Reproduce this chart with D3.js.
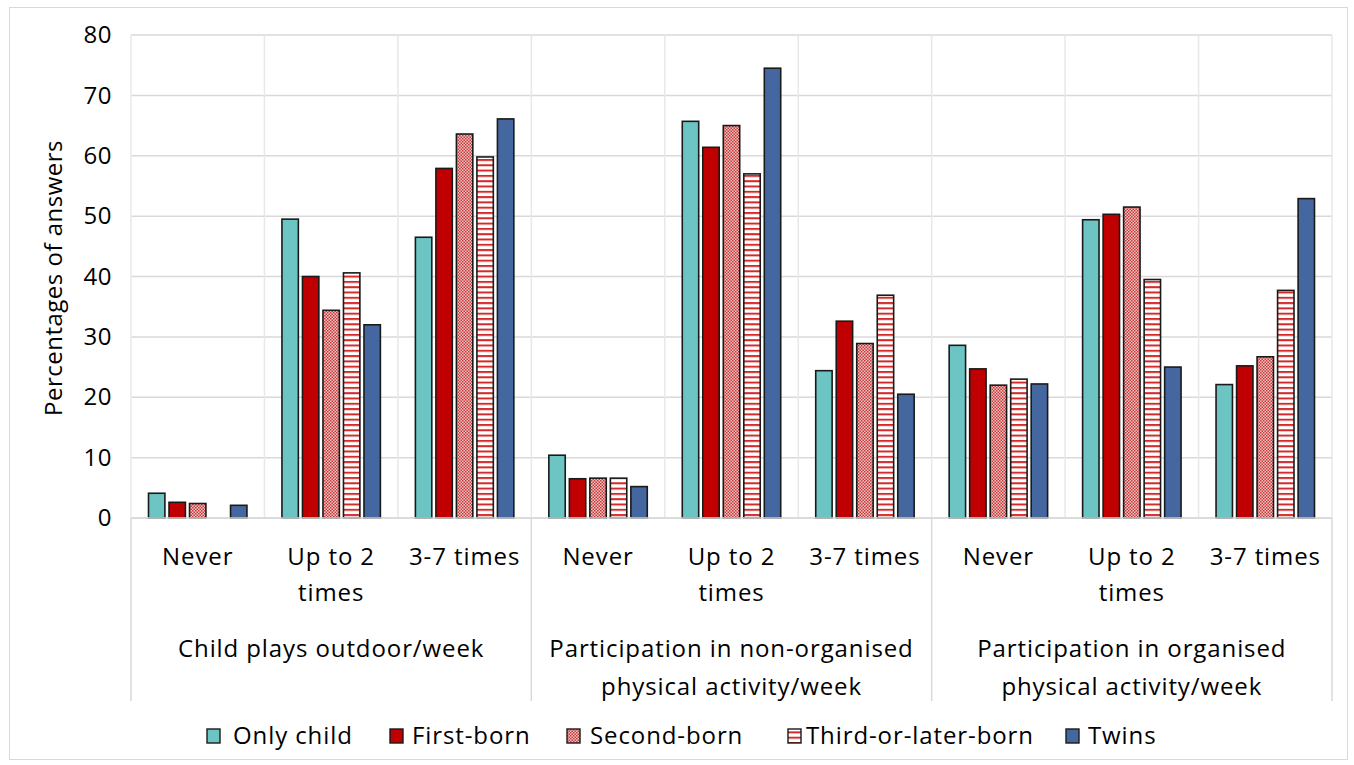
<!DOCTYPE html>
<html>
<head>
<meta charset="utf-8">
<script src="https://cdn.jsdelivr.net/npm/d3@7"></script>
<style>
  html, body { margin: 0; padding: 0; background: #fff; }
  svg { display: block; font-family: "Open Sans", Lato, sans-serif; }
</style>
</head>
<body>
<svg id="chart" width="1354" height="765"></svg>
<script>
// ---------- DATA ----------
const groupLabels = [
  ["Child plays outdoor/week"],
  ["Participation in non-organised", "physical activity/week"],
  ["Participation in organised", "physical activity/week"]
];
const categoryLabels = [["Never"], ["Up to 2", "times"], ["3-7 times"]];
const seriesNames = ["Only child", "First-born", "Second-born", "Third-or-later-born", "Twins"];
const onlyChild   = [4.1, 49.5, 46.5, 10.4, 65.7, 24.4, 28.6, 49.4, 22.1];
const firstBorn   = [2.6, 40.0, 57.9, 6.5, 61.4, 32.6, 24.7, 50.3, 25.2];
const secondBorn  = [2.4, 34.4, 63.6, 6.6, 65.0, 28.9, 22.0, 51.5, 26.7];
const thirdBorn   = [null, 40.6, 59.8, 6.6, 57.0, 36.9, 23.0, 39.5, 37.7];
const twins       = [2.1, 32.0, 66.1, 5.2, 74.5, 20.5, 22.2, 25.0, 52.9];
const yTicks = [0, 10, 20, 30, 40, 50, 60, 70, 80];
const yTitle = "Percentages of answers";

// ---------- LAYOUT ----------
const seriesValues = [onlyChild, firstBorn, secondBorn, thirdBorn, twins];
const svg = d3.select("#chart");
const pLeft = 131, pRight = 1332, pTop = 35, pBottom = 518;
const fontSize = 24;
const spacing = "0.9px";
const grid = "#d9d9d9";

const slots = d3.range(9);
const x0 = d3.scaleBand().domain(slots).range([pLeft, pRight]).paddingInner(0).paddingOuter(0);
const x1 = d3.scaleBand().domain(d3.range(5)).range([17.5, x0.bandwidth() - 17.5]).paddingInner(0.2).paddingOuter(0);
const y = d3.scaleLinear().domain([0, 80]).range([pBottom, pTop]);
const xg = d3.scaleBand().domain([0, 1, 2]).range([pLeft, pRight]);

// outer border
svg.append("rect").attr("x", 9.5).attr("y", 7.5).attr("width", 1338).attr("height", 752)
  .attr("fill", "#fff").attr("stroke", "#d9d9d9").attr("stroke-width", 1);

// patterns
const defs = svg.append("defs");
const pDot = defs.append("pattern").attr("id", "dots").attr("patternUnits", "userSpaceOnUse")
  .attr("width", 3).attr("height", 3);
pDot.append("rect").attr("width", 3).attr("height", 3).attr("fill", "#f0c4c4");
pDot.append("rect").attr("x", 0).attr("y", 0).attr("width", 1.5).attr("height", 1.5).attr("fill", "#c83838");
pDot.append("rect").attr("x", 1.5).attr("y", 1.5).attr("width", 1.5).attr("height", 1.5).attr("fill", "#c83838");
const pStripe = defs.append("pattern").attr("id", "stripes").attr("patternUnits", "userSpaceOnUse")
  .attr("width", 6).attr("height", 5.3);
pStripe.append("rect").attr("width", 6).attr("height", 5.3).attr("fill", "#fff");
pStripe.append("rect").attr("y", 0).attr("width", 6).attr("height", 2).attr("fill", "#d42a2a");

const fills = ["#6cc5c3", "#c00000", "url(#dots)", "url(#stripes)", "#45679f"];
const legendFills = fills;

// horizontal gridlines
svg.append("g").selectAll("line").data(yTicks).join("line")
  .attr("x1", pLeft).attr("x2", pRight)
  .attr("y1", d => y(d)).attr("y2", d => y(d))
  .attr("stroke", grid).attr("stroke-width", 1.5);

// vertical gridlines at category boundaries
const bounds = slots.map(i => x0(i)).concat([pRight]);
svg.append("g").selectAll("line").data(bounds).join("line")
  .attr("x1", d => d).attr("x2", d => d)
  .attr("y1", pTop).attr("y2", pBottom)
  .attr("stroke", "#e8e8e8").attr("stroke-width", 1.5);

// group separators below the axis
const gBounds = [0, 1, 2].map(i => xg(i)).concat([pRight]);
svg.append("g").selectAll("line").data(gBounds).join("line")
  .attr("x1", d => d).attr("x2", d => d)
  .attr("y1", pBottom).attr("y2", 701)
  .attr("stroke", grid).attr("stroke-width", 1.5);

// bars
const barData = [];
seriesValues.forEach((vals, s) => vals.forEach((v, i) => { if (v != null) barData.push({s, i, v}); }));
svg.append("g").selectAll("rect").data(barData).join("rect")
  .attr("x", d => x0(d.i) + x1(d.s))
  .attr("y", d => y(d.v))
  .attr("width", x1.bandwidth())
  .attr("height", d => y(0) - y(d.v))
  .attr("fill", d => fills[d.s])
  .attr("stroke", "#1a1a1a").attr("stroke-width", 1.6);

// axis line
svg.append("line").attr("x1", pLeft).attr("x2", pRight).attr("y1", pBottom).attr("y2", pBottom)
  .attr("stroke", grid).attr("stroke-width", 1.5);

// y axis tick labels
const yAxis = d3.axisLeft(y).tickValues(yTicks).tickSize(0).tickPadding(19);
const ya = svg.append("g").attr("transform", `translate(${pLeft},0)`).call(yAxis);
ya.select(".domain").remove();
ya.selectAll("text").attr("font-size", fontSize).attr("fill", "#000")
  .attr("font-family", "'Open Sans', sans-serif").style("letter-spacing", "0.5px");

// y title
svg.append("text").attr("transform", `translate(62,278) rotate(-90)`)
  .attr("text-anchor", "middle").attr("font-size", fontSize).attr("fill", "#000")
  .style("letter-spacing", "0.5px")
  .text(yTitle);

// category labels
slots.forEach(i => {
  const lines = categoryLabels[i % 3];
  const t = svg.append("text").attr("text-anchor", "middle").attr("font-size", fontSize).attr("fill", "#000")
    .style("letter-spacing", spacing);
  lines.forEach((ln, k) => t.append("tspan").attr("x", x0(i) + x0.bandwidth() / 2).attr("y", 565 + k * 36).text(ln));
});

// group labels
[0, 1, 2].forEach(g => {
  const t = svg.append("text").attr("text-anchor", "middle").attr("font-size", fontSize).attr("fill", "#000")
    .style("letter-spacing", spacing);
  groupLabels[g].forEach((ln, k) => t.append("tspan").attr("x", xg(g) + xg.bandwidth() / 2).attr("y", 657 + k * 38).text(ln));
});

// legend
const legendX = [207, 390, 567, 788, 1066];
const legendTextX = [233, 412, 590, 806, 1088];
const lg = svg.append("g");
seriesNames.forEach((name, s) => {
  lg.append("rect").attr("x", legendX[s]).attr("y", 729).attr("width", 13).attr("height", 14)
    .attr("fill", legendFills[s]).attr("stroke", "#1a1a1a").attr("stroke-width", 1.4);
  lg.append("text").attr("x", legendTextX[s]).attr("y", 744).attr("font-size", fontSize).attr("fill", "#000")
    .style("letter-spacing", spacing).text(name);
});
</script>
</body>
</html>
